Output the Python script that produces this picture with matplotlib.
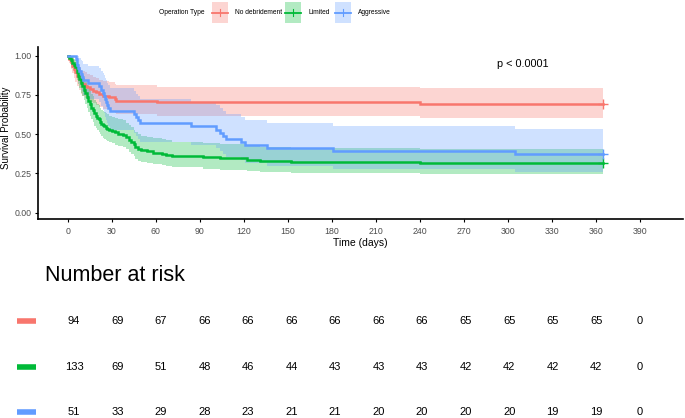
import matplotlib
matplotlib.use("Agg")
import matplotlib.pyplot as plt
from matplotlib.patches import Rectangle
import numpy as np

plt.rcParams['font.family'] = ['Liberation Sans', 'DejaVu Sans']

# ---------------- data ----------------
groups = ["No debridement", "Limited", "Aggressive"]
colors = ["#F8766D", "#00BA38", "#619CFF"]
legend_title = "Operation Type"
end_time = 365

red_time = [1, 2, 3, 4, 5, 6, 8, 9, 10, 12, 13, 15, 17, 19, 21, 24, 28, 32, 33, 61, 240]
red_surv = [0.979, 0.957, 0.936, 0.915, 0.894, 0.872, 0.851, 0.830, 0.819, 0.809, 0.798,
            0.787, 0.777, 0.766, 0.755, 0.745, 0.734, 0.723, 0.713, 0.702, 0.691]
red_upper = [1.0, 0.999, 0.987, 0.973, 0.958, 0.942, 0.926, 0.910, 0.901, 0.893, 0.883,
             0.874, 0.866, 0.857, 0.847, 0.839, 0.829, 0.819, 0.811, 0.801, 0.791]
red_lower = [0.950, 0.917, 0.888, 0.860, 0.834, 0.807, 0.782, 0.757, 0.745, 0.733, 0.721,
             0.708, 0.697, 0.685, 0.673, 0.662, 0.650, 0.638, 0.627, 0.615, 0.604]

green_time = [1, 2, 3, 4, 5, 6, 7, 8, 9, 10, 11, 12, 13, 14, 15, 16, 17, 18, 19, 20, 21, 22,
              23, 24, 25, 26, 27, 28, 30, 32, 34, 38, 40, 42, 43, 45, 46, 48, 50, 54, 58, 64,
              67, 71, 92, 104, 122, 131, 152, 240]
green_surv = [0.985, 0.970, 0.955, 0.940, 0.925, 0.895, 0.872, 0.850, 0.827, 0.805, 0.782,
              0.759, 0.737, 0.714, 0.692, 0.669, 0.654, 0.632, 0.617, 0.602, 0.594, 0.579,
              0.564, 0.556, 0.549, 0.541, 0.534, 0.526, 0.519, 0.511, 0.504, 0.496, 0.481,
              0.466, 0.451, 0.436, 0.421, 0.406, 0.398, 0.391, 0.383, 0.376, 0.368, 0.361,
              0.353, 0.346, 0.338, 0.331, 0.323, 0.316]
green_upper = [1.0, 1.0, 0.991, 0.981, 0.971, 0.949, 0.931, 0.913, 0.894, 0.875, 0.855,
               0.835, 0.816, 0.795, 0.775, 0.754, 0.740, 0.720, 0.705, 0.691, 0.684, 0.669,
               0.655, 0.647, 0.640, 0.633, 0.626, 0.618, 0.611, 0.603, 0.597, 0.589, 0.574,
               0.559, 0.544, 0.529, 0.514, 0.499, 0.490, 0.483, 0.475, 0.468, 0.460, 0.453,
               0.444, 0.437, 0.429, 0.421, 0.413, 0.406]
green_lower = [0.965, 0.941, 0.920, 0.901, 0.881, 0.844, 0.817, 0.791, 0.765, 0.740, 0.715,
               0.690, 0.666, 0.641, 0.618, 0.594, 0.578, 0.555, 0.540, 0.524, 0.516, 0.501,
               0.486, 0.478, 0.471, 0.463, 0.456, 0.448, 0.441, 0.433, 0.426, 0.418, 0.403,
               0.389, 0.374, 0.360, 0.345, 0.331, 0.323, 0.316, 0.309, 0.302, 0.295, 0.288,
               0.280, 0.274, 0.266, 0.260, 0.253, 0.246]

blue_time = [5.5, 6, 6.5, 7, 8, 9, 10, 10.5, 14, 21, 23, 24, 25, 25.5, 26, 27, 27.5, 28.5,
             45.5, 46.5, 48, 49.5, 84, 101, 104, 106, 108, 118, 121, 136, 181, 305]
blue_surv = [0.980, 0.961, 0.941, 0.922, 0.902, 0.882, 0.863, 0.843, 0.824, 0.804, 0.784,
             0.765, 0.745, 0.725, 0.706, 0.686, 0.667, 0.647, 0.627, 0.608, 0.588, 0.569,
             0.549, 0.529, 0.510, 0.490, 0.471, 0.451, 0.431, 0.412, 0.392, 0.3725]
blue_upper = [1.0, 1.0, 1.0, 0.999, 0.987, 0.975, 0.963, 0.949, 0.935, 0.921, 0.905, 0.891,
              0.875, 0.858, 0.843, 0.826, 0.810, 0.792, 0.775, 0.758, 0.740, 0.723, 0.704,
              0.685, 0.667, 0.648, 0.630, 0.610, 0.591, 0.572, 0.552, 0.532]
blue_lower = [0.943, 0.909, 0.879, 0.851, 0.824, 0.798, 0.774, 0.749, 0.726, 0.702, 0.679,
              0.657, 0.634, 0.612, 0.591, 0.570, 0.549, 0.528, 0.507, 0.488, 0.467, 0.448,
              0.428, 0.409, 0.390, 0.371, 0.352, 0.333, 0.314, 0.297, 0.279, 0.261]

risk_times = [0, 30, 60, 90, 120, 150, 180, 210, 240, 270, 300, 330, 360, 390]
risk_red = [94, 69, 67, 66, 66, 66, 66, 66, 66, 65, 65, 65, 65, 0]
risk_green = [133, 69, 51, 48, 46, 44, 43, 43, 43, 42, 42, 42, 42, 0]
risk_blue = [51, 33, 29, 28, 23, 21, 21, 20, 20, 20, 20, 19, 19, 0]

x_ticks = [0, 30, 60, 90, 120, 150, 180, 210, 240, 270, 300, 330, 360, 390]
y_ticks = [0.00, 0.25, 0.50, 0.75, 1.00]
p_text = "p < 0.0001"

series = [
    (red_time, red_surv, red_lower, red_upper, risk_red),
    (green_time, green_surv, green_lower, green_upper, risk_green),
    (blue_time, blue_surv, blue_lower, blue_upper, risk_blue),
]

# ---------------- figure ----------------
W, H = 685, 418
fig = plt.figure(figsize=(W / 100, H / 100), dpi=100)
fig.patch.set_facecolor("white")

XLIM = (-20.25, 419.5)
ax = fig.add_axes([38 / W, 1 - 219 / H, (683 - 38) / W, 172 / H])
ax.set_xlim(*XLIM)
ax.set_ylim(-0.04, 1.055)

def full(t, s, start):
    tt = np.concatenate([[0], np.asarray(t, float), [end_time]])
    ss = np.concatenate([[start], np.asarray(s, float), [s[-1]]])
    return tt, ss

for (t, s, lo, up, _), c in zip(series, colors):
    tt, lo2 = full(t, lo, 1.0)
    _, up2 = full(t, up, 1.0)
    ax.fill_between(tt, lo2, up2, step="post", color=c, alpha=0.3, linewidth=0)

for (t, s, lo, up, _), c in zip(series, colors):
    tt, ss = full(t, s, 1.0)
    ax.step(tt, ss, where="post", color=c, linewidth=1.8, solid_joinstyle="miter")
    ax.plot([end_time], [s[-1]], marker="+", color=c, markersize=7, markeredgewidth=1.0)

ax.text(292.5, 0.945, p_text, fontsize=7.8, ha="left", va="center", color="black")

for side in ["top", "right"]:
    ax.spines[side].set_visible(False)
for side in ["left", "bottom"]:
    ax.spines[side].set_linewidth(1.2)
    ax.spines[side].set_color("black")
ax.set_xticks(x_ticks)
ax.set_yticks(y_ticks)
ax.set_yticklabels([f"{v:.2f}" for v in y_ticks])
ax.tick_params(axis="both", direction="out", length=2.5, width=0.8, color="black",
               labelsize=6.3, labelcolor="#4D4D4D")
ax.tick_params(axis="x", pad=3.2)
ax.tick_params(axis="y", pad=2)
ax.set_xlabel("Time (days)", fontsize=7.5, labelpad=1.5)
ax.set_ylabel("Survival Probability", fontsize=7.0)
ax.yaxis.set_label_coords(-0.0426, 0.529)
ax.patch.set_alpha(0)

# ---------------- risk table ----------------
axr = fig.add_axes([44.6 / W, 0, 637.9 / W, (H - 298) / H])
axr.set_xlim(*XLIM)
axr.set_ylim(-0.124, 2.496)
axr.axis("off")
rows = [2, 1, 0]
for (t, s, lo, up, risk), c, r in zip(series, colors, rows):
    for xt, n in zip(risk_times, risk):
        axr.text(xt, r, str(n), fontsize=8, ha="center", va="center", color="black")
    axr.plot([-0.0433, -0.014], [r, r], color=c, linewidth=4,
             transform=axr.get_yaxis_transform(), clip_on=False, solid_capstyle="butt")
fig.text(45 / W, 1 - 280.7 / H, "Number at risk", fontsize=15.5, ha="left",
         va="baseline", color="black")

# ---------------- legend (top) ----------------
axl = fig.add_axes([0, 0, 1, 1], zorder=5)
axl.set_xlim(0, W)
axl.set_ylim(H, 0)
axl.axis("off")
axl.patch.set_alpha(0)
axl.text(204.5, 12.5, legend_title, fontsize=4.8, ha="right", va="center")
key_x = [211.7, 285, 335]
for kx, c, g in zip(key_x, colors, groups):
    axl.add_patch(Rectangle((kx, 1.7), 16, 21.6, facecolor=c, alpha=0.3, linewidth=0))
    axl.plot([kx, kx + 16], [12.5, 12.5], color=c, linewidth=1.3)
    axl.plot([kx + 8, kx + 8], [9.0, 16.0], color=c, linewidth=0.8)
    axl.text(kx + 23.3, 12.5, g, fontsize=4.8, ha="left", va="center")

fig.savefig("out.png", dpi=100)
